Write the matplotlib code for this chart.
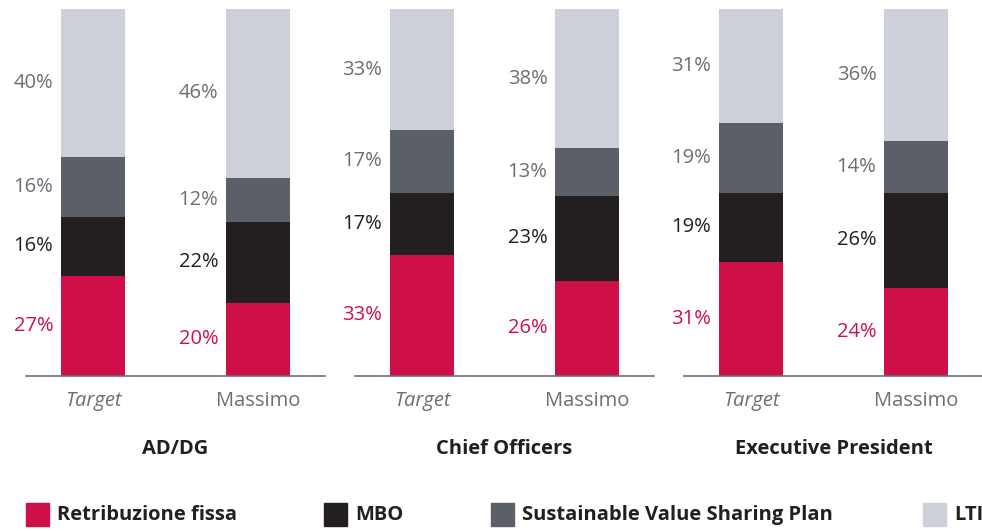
import matplotlib.pyplot as plt
import numpy as np

plt.rcParams['font.family'] = ['Open Sans', 'DejaVu Sans']

groups = ['AD/DG', 'Chief Officers', 'Executive President']
bar_names = ['Target', 'Massimo']
components = ['Retribuzione fissa', 'MBO', 'Sustainable Value Sharing Plan', 'LTI']

# percentages per group: [Target, Massimo] for each component
fissa = [[27, 20], [33, 26], [31, 24]]
mbo = [[16, 22], [17, 23], [19, 26]]
svsp = [[16, 12], [17, 13], [19, 14]]
lti = [[40, 46], [33, 38], [31, 36]]

colors = ['#cf1048', '#231f20', '#5b5f67', '#cdd0d8']
label_colors = ['#cf1048', '#231f20', '#6b6e75', '#6b6e75']
axis_color = '#6b6e75'

fig = plt.figure(figsize=(9.82, 5.31), dpi=100)

W, H = 982, 531
bar_w = 0.388
series = [fissa, mbo, svsp, lti]

for g, name in enumerate(groups):
    left = 26 + g * 329
    ax = fig.add_axes([left / W, (H - 376) / H, 299 / W, 367 / H])
    ax.set_xlim(-0.406, 1.406)
    ax.set_ylim(0, 1)
    x = np.arange(len(bar_names))
    vals = np.array([s[g] for s in series], dtype=float)
    totals = vals.sum(axis=0)
    bottom = np.zeros(len(bar_names))
    for k in range(len(series)):
        h = vals[k] / totals
        ax.bar(x, h, bar_w, bottom=bottom, color=colors[k], linewidth=0)
        for i in range(len(bar_names)):
            ax.annotate(f'{int(vals[k][i])}%', (x[i] - bar_w / 2, bottom[i] + h[i] / 2),
                        xytext=(-5.5, 0), textcoords='offset points',
                        ha='right', va='center', fontsize=14.5, color=label_colors[k])
        bottom += h

    for s in ['top', 'right', 'left']:
        ax.spines[s].set_visible(False)
    ax.spines['bottom'].set_color(axis_color)
    ax.spines['bottom'].set_linewidth(1.2)
    ax.set_yticks([])
    ax.set_xticks(x)
    ax.set_xticklabels(bar_names, fontsize=14.5, color=axis_color)
    ax.get_xticklabels()[0].set_style('italic')
    ax.tick_params(axis='x', length=0, pad=11)
    ax.set_xlabel(name, fontsize=14.5, fontweight='bold', color='#231f20', labelpad=20)

# legend
leg_x = [26, 324, 491, 923]
for k, comp in enumerate(components):
    fig.patches.append(plt.Rectangle((leg_x[k] / W, (H - 526) / H), 23 / W, 23 / H,
                                     transform=fig.transFigure, color=colors[k]))
    fig.text((leg_x[k] + 31) / W, (H - 515) / H, comp, fontsize=14.5, fontweight='bold',
             color='#231f20', va='center', ha='left')

fig.savefig('out.png', dpi=100)
